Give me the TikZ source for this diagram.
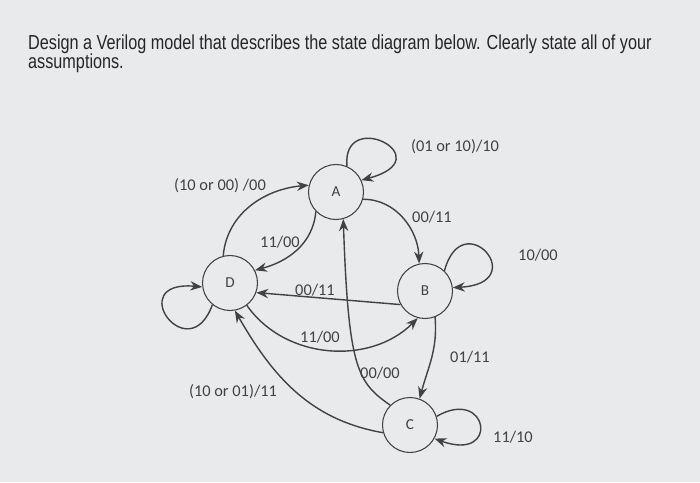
\documentclass[tikz,border=0pt]{standalone}
\usepackage{fontspec}
\setmainfont{Carlito}
\newfontfamily\titlefont[FakeStretch=0.8]{Liberation Sans}
\usetikzlibrary{arrows.meta}
\tikzset{>={Stealth[length=3.6mm,width=2.8mm]}}
\definecolor{paper}{RGB}{233,234,236}
\definecolor{penColor}{RGB}{66,66,66}
\tikzset{
  state/.style={circle,draw=penColor,line width=0.9pt,minimum size=16.5mm,inner sep=0pt,text=penColor,font=\fontsize{13}{15}\selectfont},
  trans/.style={->,draw=penColor,line width=1.2pt},
  lbl/.style={text=penColor,font=\fontsize{14}{16}\selectfont},
  title/.style={anchor=base west,inner sep=0pt,text=black!85,font=\titlefont\fontsize{17.3}{19}\selectfont}
}

\begin{document}
\begin{tikzpicture}[x=0.3mm,y=0.3mm]
    \fill[paper] (0,0) rectangle (700,482);
    \useasboundingbox (0,0) rectangle (700,482);

    \node[title] (line1) at (28,432) {Design a Verilog model that describes the state diagram below. Clearly state all of your};
    \node[title] (line2) at (28,413) {assumptions.};

    % states
    \node[state] (A) at (336,290) {A};
    \node[state] (B) at (425,191) {B};
    \node[state] (C) at (410,57) {C};
    \node[state] (D) at (230,199) {D};

    % transitions
    \draw[trans] (D.104) to[out=85,in=185] (A.166);
    \draw[trans] (A.224) to[out=-95,in=15] (D.27);
    \draw[trans] (A.67) .. controls +(95:60) and +(15:85) .. (A.25);
    \draw[trans] (A.-15) to[out=0,in=92] (B.102);
    \draw[trans] (B.46) .. controls +(75:70) and +(3:80) .. (B.7);
    \draw[trans] (B.209) -- (D.-20);
    \draw[trans] (D.-53) to[out=-55,in=225] (B.255);
    \draw[trans] (C.135) .. controls +(145:40) and +(-88:150) .. (A.-75);
    \draw[trans] (B.-69) to[out=-85,in=75] (C.70);
    \draw[trans] (C.18) .. controls +(30:60) and +(-20:70) .. (C.-29);
    \draw[trans] (C.196) to[out=170,in=-60] (D.-80);
    \draw[trans] (D.231) .. controls +(-110:70) and +(175:80) .. (D.188);

    % labels
    \node[lbl] (da) at (220,296) {(10 or 00) /00};
    \node[lbl] (ad) at (280,240) {11/00};
    \node[lbl] (aa) at (455,335) {(01 or 10)/10};
    \node[lbl] (ab) at (432,265) {00/11};
    \node[lbl] (bb) at (538,227) {10/00};
    \node[lbl] (bd) at (315,192) {00/11};
    \node[lbl] (db) at (320,145) {11/00};
    \node[lbl] (ca) at (380,109) {00/00};
    \node[lbl] (cd) at (233,90) {(10 or 01)/11};
    \node[lbl] (bc) at (470,125) {01/11};
    \node[lbl] (cc) at (513,45) {11/10};
\end{tikzpicture}
\end{document}
